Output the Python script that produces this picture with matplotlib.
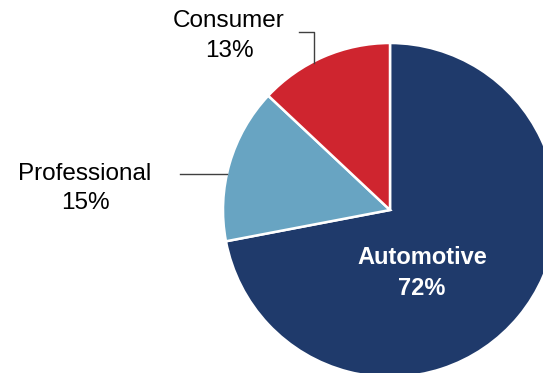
import matplotlib.pyplot as plt

segments = ['Automotive', 'Professional', 'Consumer']
shares = [72, 15, 13]
colors = ['#1f3a6b', '#68a4c2', '#cf252f']

W, H = 543, 373
fig = plt.figure(figsize=(W / 100, H / 100), dpi=100)
ax = fig.add_axes([0, 0, 1, 1])

cx, cy, r = 390, H - 210, 167
ax.pie(shares, colors=colors, startangle=90, counterclock=False,
       center=(cx, cy), radius=r, frame=True,
       wedgeprops=dict(edgecolor='white', linewidth=1.8))
ax.set_xlim(0, W)
ax.set_ylim(0, H)
ax.set_aspect('equal')
ax.axis('off')

font = ['Liberation Sans', 'DejaVu Sans']

ax.text(422, H - 273, f'{segments[0]}\n{shares[0]}%', color='white',
        fontsize=17, fontweight='bold', family=font,
        ha='center', va='center', linespacing=1.45)
ax.text(85, H - 188.5, f'{segments[1]}\n{shares[1]}%', color='black',
        fontsize=17.5, family=font, ha='center', va='center', linespacing=1.4)
ax.text(229, H - 36, f'{segments[2]}\n{shares[2]}%', color='black',
        fontsize=17.5, family=font, ha='center', va='center', linespacing=1.42)

# leader lines
ax.plot([180, 227], [H - 174, H - 174], color='#404040', linewidth=1)
ax.plot([299, 314, 314], [H - 32, H - 32, H - 63], color='#404040', linewidth=1)

fig.savefig('out.png', dpi=100)
